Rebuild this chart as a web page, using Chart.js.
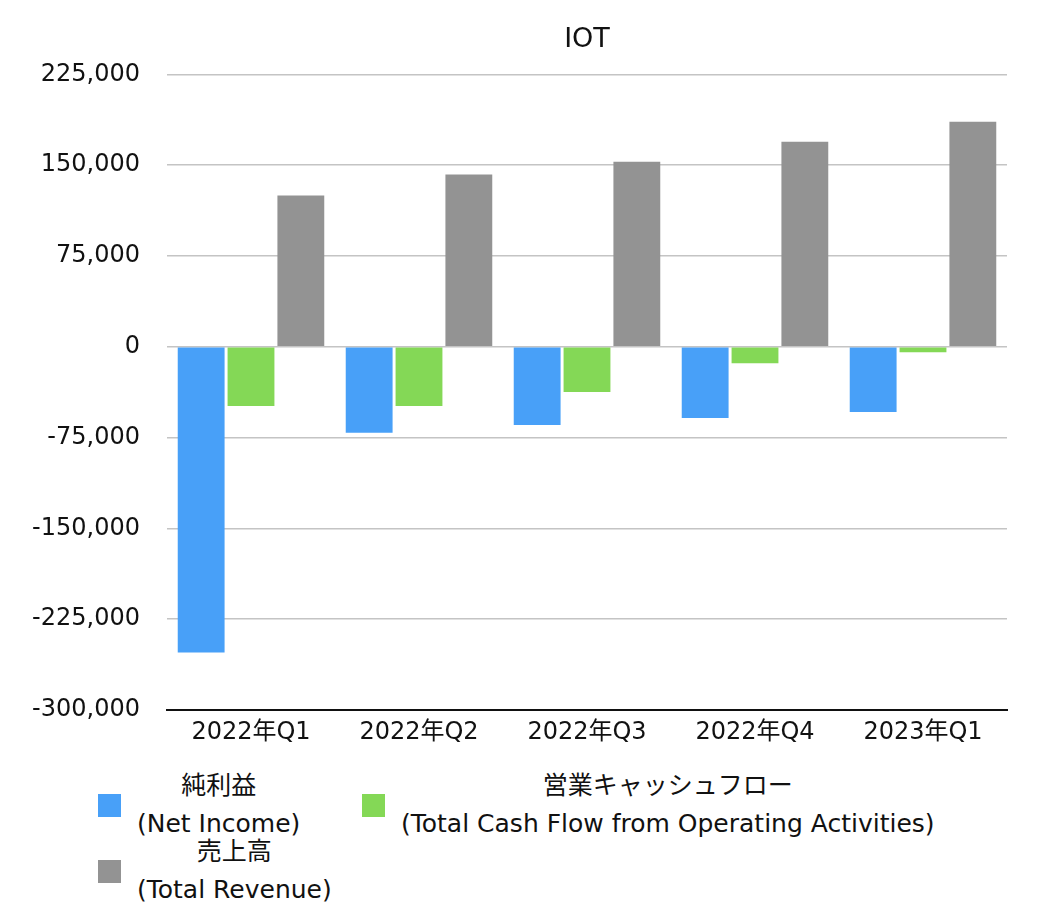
<!DOCTYPE html>
<html>
<head>
<meta charset="utf-8">
<script src="https://cdn.jsdelivr.net/npm/chart.js@4.4.0/dist/chart.umd.min.js"></script>
<style>
  body { margin: 0; background: #fff; font-family: "DejaVu Sans", "Noto Sans CJK JP", sans-serif; }
  #wrap { position: relative; width: 1048px; height: 910px; }
  #legend { position: absolute; left: 0; top: 0; }
  .item { position: absolute; display: flex; align-items: center; }
  .box { width: 23px; height: 23px; margin-right: 16px; }
  .txt { text-align: center; font-size: 25px; line-height: 38px; color: #111; white-space: nowrap; }
</style>
</head>
<body>
<div id="wrap">
  <canvas id="chart" width="1048" height="760"></canvas>
  <div id="legend"></div>
</div>
<script>
// Data
const categories = ['2022年Q1', '2022年Q2', '2022年Q3', '2022年Q4', '2023年Q1'];
const netIncome = [-252500, -71000, -64500, -58800, -53900];
const operatingCashFlow = [-48900, -48900, -37400, -13500, -4400];
const totalRevenue = [125000, 142300, 152900, 169400, 185800];
const seriesNames = [
    ['純利益', '(Net Income)'],
    ['営業キャッシュフロー', '(Total Cash Flow from Operating Activities)'],
    ['売上高', '(Total Revenue)']
];
const seriesColors = ['#48a0f8', '#84d856', '#939393'];
const yTicks = [-300000, -225000, -150000, -75000, 0, 75000, 150000, 225000];

const fontFamily = '"DejaVu Sans", "Noto Sans CJK JP", sans-serif';

const ctx = document.getElementById('chart').getContext('2d');
new Chart(ctx, {
    type: 'bar',
    data: {
        labels: categories,
        datasets: [netIncome, operatingCashFlow, totalRevenue].map((d, i) => ({
            label: seriesNames[i].join(' '),
            data: d,
            backgroundColor: seriesColors[i],
            borderWidth: 0,
            barPercentage: 0.94,
            categoryPercentage: 0.89
        }))
    },
    options: {
        responsive: false,
        animation: false,
        layout: { padding: { left: 0, right: 41, top: 0, bottom: 0 } },
        plugins: {
            legend: { display: false },
            tooltip: { enabled: false },
            title: {
                display: true,
                fullSize: false,
                text: 'IOT',
                color: '#111',
                font: { family: fontFamily, size: 27, weight: 'normal', lineHeight: 1.2 },
                padding: { top: 24, bottom: 18 }
            }
        },
        scales: {
            x: {
                grid: { display: false, drawTicks: false },
                border: { display: true, color: '#111', width: 2 },
                ticks: { color: '#111', padding: 8, font: { family: fontFamily, size: 24 }, maxRotation: 0 },
                afterFit(scale) { scale.height = 50; }
            },
            y: {
                min: -300000,
                max: 225000,
                afterBuildTicks(scale) { scale.ticks = yTicks.map(v => ({ value: v })); },
                grid: { color: '#c4c4c4', lineWidth: 1.5, drawTicks: false },
                border: { display: false },
                ticks: {
                    color: '#111',
                    padding: 27,
                    font: { family: fontFamily, size: 24 },
                    callback: v => v.toLocaleString('en-US')
                },
                afterFit(scale) { scale.width = 167; }
            }
        }
    }
});

// Legend
const legendPos = [[98, 767], [362, 767], [98, 833]];
document.getElementById('legend').innerHTML = seriesNames.map((n, i) => `
    <div class="item" style="left:${legendPos[i][0]}px; top:${legendPos[i][1]}px">
        <div class="box" style="background:${seriesColors[i]}"></div>
        <div class="txt">${n[0]}<br>${n[1]}</div>
    </div>
`).join('');
</script>
</body>
</html>
